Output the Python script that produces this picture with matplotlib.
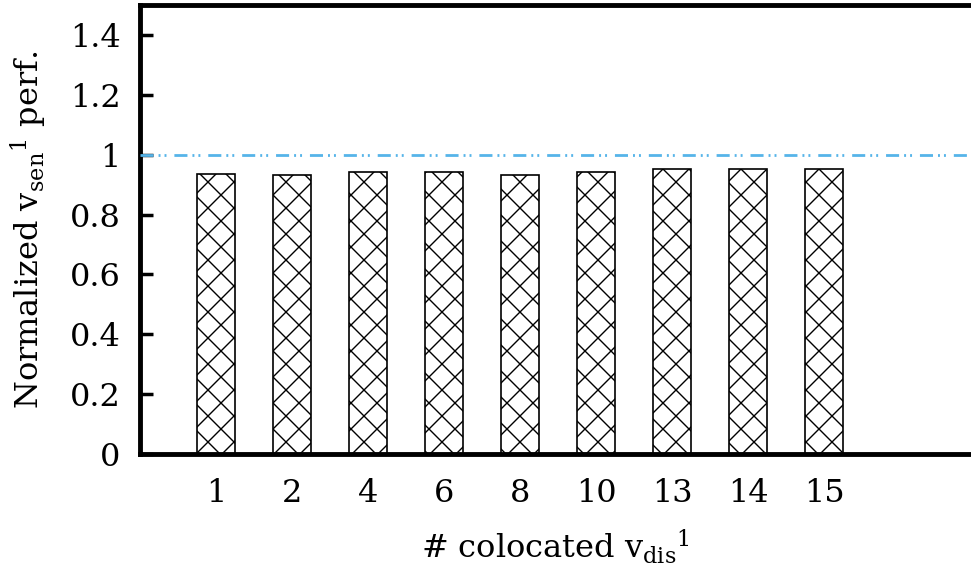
import numpy as np
import matplotlib
matplotlib.use("Agg")
import matplotlib.pyplot as plt

# bar data
categories = ["1", "2", "4", "6", "8", "10", "13", "14", "15"]
perf = [0.936, 0.932, 0.942, 0.941, 0.933, 0.942, 0.951, 0.951, 0.953]
yticks = [0, 0.2, 0.4, 0.6, 0.8, 1.0, 1.2, 1.4]
ytick_labels = ["0", "0.2", "0.4", "0.6", "0.8", "1", "1.2", "1.4"]
baseline = 1.0

# lower dpi so the hatch cell is smaller; point sizes are scaled back up
DPI = 78
k = 100.0 / DPI

plt.rcParams['font.family'] = ['DejaVu Serif']
plt.rcParams['mathtext.fontset'] = 'dejavuserif'
plt.rcParams['hatch.linewidth'] = 1.0 * k
plt.rcParams['lines.scale_dashes'] = False

fig = plt.figure(figsize=(971 / DPI, 566 / DPI), dpi=DPI)
ax = fig.add_axes([140 / 971, 1 - 454 / 566, 1 - 140 / 971, 449 / 566])

x = np.arange(1, len(categories) + 1)
ax.bar(x, perf, width=0.51, color="white", edgecolor="black", hatch="x", linewidth=1.2 * k, zorder=2)

ax.axhline(baseline, color="#56B4E9", linewidth=2.0 * k,
           dashes=[d * k for d in (9.4, 3.6, 1.4, 2.9, 1.4, 5.7)], zorder=3)

ax.set_xlim(0, (971 - 140) / 76)
ax.set_ylim(0, 1.5)
ax.set_xticks(x)
ax.set_xticklabels(categories)
ax.set_yticks(yticks)
ax.set_yticklabels(ytick_labels)

ax.tick_params(axis="x", length=0, pad=17 * k, labelsize=23 * k)
ax.tick_params(axis="y", direction="in", length=9 * k, width=2.5 * k, pad=14 * k, labelsize=23 * k)

for s in ["left", "bottom", "top"]:
    ax.spines[s].set_linewidth(3.5 * k)
ax.spines["right"].set_visible(False)

ax.set_ylabel(r"Normalized v$_{\mathrm{sen}}$$^{\mathrm{1}}$ perf.", fontsize=23 * k, labelpad=15 * k)
ax.set_xlabel(r"# colocated v$_{\mathrm{dis}}$$^{\mathrm{1}}$", fontsize=23 * k, labelpad=14 * k)

fig.savefig("out.png", dpi=DPI)
